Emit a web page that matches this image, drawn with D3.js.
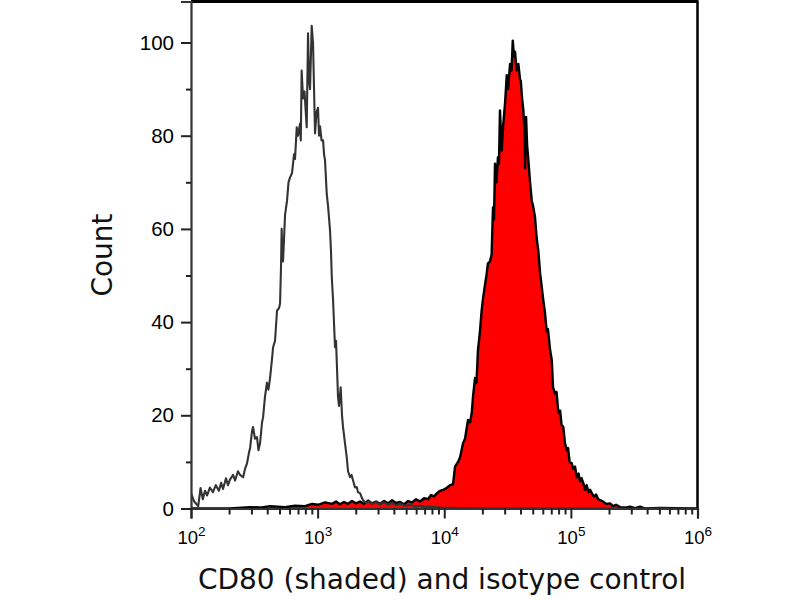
<!DOCTYPE html>
<html>
<head>
<meta charset="utf-8">
<script src="https://cdn.jsdelivr.net/npm/d3@7"></script>
<style>
  html, body { margin: 0; padding: 0; background: #fff; }
  svg { display: block; }
</style>
</head>
<body>
<svg id="chart" width="800" height="600"></svg>
<script>
// ---- Data ----
// Isotype control histogram: fluorescence intensity and count
const isotypeIntensity = [100,106,114,119,124,129,134,141,149,157,166,173,179,189,196,203,215,223,235,244,258,267,277,287,293,303,309,320,332,341,351,364,371,384,398,409,421,436,445,461,478,496,505,514,520,527,533,553,573,589,605,628,651,663,684,700,726,736,748,767,788,802,820,840,855,871,898,920,937,954,980,1007,1026,1045,1074,1104,1124,1144,1180,1208,1253,1276,1292,1324,1372,1397,1423,1449,1475,1521,1558,1587,1645,1698,1738,1803,1853,1905,1974,2037,2085,2163,2243,2285,2412,2547,2689,2893,3111,3346,3598,3870,4162,4476,4902,5370,5880,6440,7052,7723,9265,13335,27540,1000000];
const isotypeCount     = [3.3,1.5,0.5,4.4,2.0,3.8,2.8,4.5,3.5,5.0,3.8,5.5,4.2,6.5,5.0,6.2,7.2,6.0,8.0,7.2,6.7,8.5,9.7,12.0,13.0,16.5,17.5,15.0,15.3,12.5,14.0,18.5,19.6,24.0,27.0,25.5,28.0,32.0,34.6,36.0,42.5,43.0,44.0,52.0,60.0,53.0,53.0,63.0,66.0,70.0,71.0,72.0,76.0,75.0,81.8,80.0,82.6,79.0,94.0,88.0,89.5,86.0,81.8,102.0,92.0,90.0,103.6,99.8,90.0,80.5,85.0,86.0,80.0,82.0,79.0,79.0,76.0,74.7,67.5,65.0,59.7,55.0,50.0,44.7,34.6,36.0,30.0,24.0,22.0,26.0,20.0,17.5,14.0,11.0,8.0,6.7,7.2,6.0,4.5,4.6,3.5,3.3,2.2,1.8,1.2,1.6,1.0,1.4,0.9,1.3,0.8,1.2,0.7,1.0,0.6,0.8,0.4,0.6,0.3,0.4,0.2,0.1,0,0];

// CD80 stained histogram (shaded): fluorescence intensity and count
const cd80Intensity = [100,203,293,351,421,553,663,795,903,1007,1144,1299,1397,1503,1616,1739,1869,2011,2162,2325,2501,2689,2893,3111,3346,3598,3870,4162,4476,4814,5177,5568,5988,6440,6925,7448,7865,8307,8772,9265,9783,10333,11112,11734,12162,12848,13335,14073,14590,15409,15989,16488,16872,17496,17973,18461,19144,19744,20223,20971,21542,22131,22950,23662,24262,24711,25164,25850,26555,27046,27546,28457,29142,30219,31164,31915,33096,34000,34752,35589,36246,37246,38484,39719,40218,41179,42164,43104,43500,44297,45113,46179,47624,49113,50246,52106,53713,55302,57130,58636,60547,62471,64436,65900,68553,70690,72322,74982,77080,79650,82200,84400,87140,89900,92760,95000,97700,101600,104000,107800,111300,115000,118200,121500,125600,129500,133100,138000,141900,146300,152500,158100,164000,170100,179600,189600,204000,215400,227500,244500,267900,293500,321500,352400,385700,506600,1000000];
const cd80Count     = [0,0,0.3,0.2,0.5,0.3,0.6,0.5,1.0,0.8,1.3,1.0,1.5,0.9,1.4,1.0,1.6,1.1,1.5,1.0,1.7,1.1,1.5,1.0,1.6,1.1,1.8,1.2,1.4,0.9,1.6,1.3,2.0,1.5,2.2,2.0,2.9,2.6,3.3,3.8,4.0,4.3,5.0,5.2,9.0,10.0,11.0,14.0,15.0,19.0,18.5,20.5,24.0,28.0,27.0,34.0,38.0,42.5,45.0,48.0,50.0,52.6,53.0,54.5,64.6,62.0,74.0,70.0,75.4,74.0,85.4,76.8,82.0,87.0,93.0,90.0,95.4,94.0,100.4,97.0,98.0,94.0,95.4,92.0,91.8,88.0,85.4,80.0,73.0,84.0,78.0,74.7,70.0,66.0,65.0,62.5,58.0,55.4,50.5,48.0,44.7,42.0,38.0,38.5,34.0,31.8,26.0,24.7,25.0,20.5,21.0,18.0,17.5,14.0,12.5,13.0,10.0,9.7,8.5,9.0,6.7,7.5,5.8,6.5,5.4,4.0,5.0,3.5,4.0,3.3,2.5,3.0,2.0,1.8,1.5,1.0,1.1,0.5,0.8,0.3,0.2,0.4,0.1,0.4,0.0,0.1,0];

// Axis ticks
const yMajorTicks = [0, 20, 40, 60, 80, 100];
const yMinorTicks = [10, 30, 50, 70, 90];
const xDecadeExponents = [2, 3, 4, 5, 6];
const xMinorMultipliers = [2, 3, 4, 5, 6, 7, 8, 9];

const xTitle = "CD80 (shaded) and isotype control";
const yTitle = "Count";

// ---- Layout ----
const plot = { left: 191, right: 697.5, top: 1.5, bottom: 508.5 };
const svg = d3.select("#chart");

const x = d3.scaleLog().domain([1e2, 1e6]).range([plot.left, plot.right]);
const y = d3.scaleLinear().domain([0, 108.8]).range([plot.bottom, plot.top]);

const iso = isotypeIntensity.map((v, i) => ({ v, c: isotypeCount[i] }));
const cd80 = cd80Intensity.map((v, i) => ({ v, c: cd80Count[i] }));

svg.append("defs").append("clipPath").attr("id", "plotClip")
  .append("rect")
  .attr("x", plot.left).attr("y", plot.top - 2)
  .attr("width", plot.right - plot.left).attr("height", plot.bottom - plot.top + 2);

const g = svg.append("g").attr("clip-path", "url(#plotClip)");

const area = d3.area().x(d => x(d.v)).y0(y(0)).y1(d => y(d.c));
const line = d3.line().x(d => x(d.v)).y(d => y(d.c));

g.append("path").datum(cd80)
  .attr("d", area).attr("fill", "#ff0000").attr("stroke", "none");
g.append("path").datum(cd80)
  .attr("d", line).attr("fill", "none").attr("stroke", "#000").attr("stroke-width", 2.4)
  .attr("stroke-linejoin", "round");
g.append("path").datum(iso)
  .attr("d", line).attr("fill", "none").attr("stroke", "#333").attr("stroke-width", 2.1)
  .attr("stroke-linejoin", "round");

// Frame: top and right borders
svg.append("line").attr("x1", plot.left).attr("x2", plot.right + 1)
  .attr("y1", plot.top).attr("y2", plot.top)
  .attr("stroke", "#000").attr("stroke-width", 3);
svg.append("line").attr("x1", plot.right).attr("x2", plot.right)
  .attr("y1", plot.top).attr("y2", plot.bottom)
  .attr("stroke", "#000").attr("stroke-width", 2.5);

// Y axis
const yAxis = d3.axisLeft(y).tickValues(yMajorTicks).tickSize(10).tickPadding(7)
  .tickFormat(d3.format("d"));
const yAxisG = svg.append("g").attr("transform", `translate(${plot.left},0)`).call(yAxis);
yAxisG.select(".domain").attr("stroke", "#333").attr("stroke-width", 2.2);
yAxisG.selectAll(".tick line").attr("stroke", "#222").attr("stroke-width", 2);
yAxisG.selectAll(".tick text").attr("font-family", "'Liberation Sans', Arial, sans-serif")
  .attr("font-size", 20.5).attr("fill", "#000");

const yMinorG = svg.append("g").attr("transform", `translate(${plot.left},0)`)
  .call(d3.axisLeft(y).tickValues(yMinorTicks).tickSize(5).tickFormat(""));
yMinorG.select(".domain").remove();
yMinorG.selectAll(".tick line").attr("stroke", "#222").attr("stroke-width", 2);

// X axis
const xMajor = xDecadeExponents.map(e => Math.pow(10, e));
const xMinor = [];
xDecadeExponents.slice(0, -1).forEach(e => xMinorMultipliers.forEach(m => xMinor.push(m * Math.pow(10, e))));

const xAxisG = svg.append("g").attr("transform", `translate(0,${plot.bottom})`)
  .call(d3.axisBottom(x).tickValues(xMajor).tickSize(10).tickFormat(""));
xAxisG.select(".domain").attr("stroke", "#333").attr("stroke-width", 2.2);
xAxisG.selectAll(".tick line").attr("stroke", "#222").attr("stroke-width", 2);

const xMinorG = svg.append("g").attr("transform", `translate(0,${plot.bottom})`)
  .call(d3.axisBottom(x).tickValues(xMinor).tickSize(6).tickFormat(""));
xMinorG.select(".domain").remove();
xMinorG.selectAll(".tick line").attr("stroke", "#222").attr("stroke-width", 2);

// Decade labels 10^n
xAxisG.selectAll(".tick").each(function(d) {
  const t = d3.select(this).append("text")
    .attr("y", 35.5).attr("text-anchor", "middle")
    .attr("font-family", "'Liberation Sans', Arial, sans-serif")
    .attr("fill", "#000");
  t.append("tspan").attr("font-size", 18.5).text("10");
  t.append("tspan").attr("font-size", 13.5).attr("dy", -8).text(Math.round(Math.log10(d)));
});

// Titles
svg.append("text")
  .attr("x", 442).attr("y", 589)
  .attr("text-anchor", "middle")
  .attr("font-family", "'DejaVu Sans', sans-serif")
  .attr("font-size", 28).attr("fill", "#111")
  .text(xTitle);

svg.append("text")
  .attr("transform", "translate(112,255) rotate(-90)")
  .attr("text-anchor", "middle")
  .attr("font-family", "'DejaVu Sans', sans-serif")
  .attr("font-size", 28).attr("fill", "#111")
  .text(yTitle);
</script>
</body>
</html>
